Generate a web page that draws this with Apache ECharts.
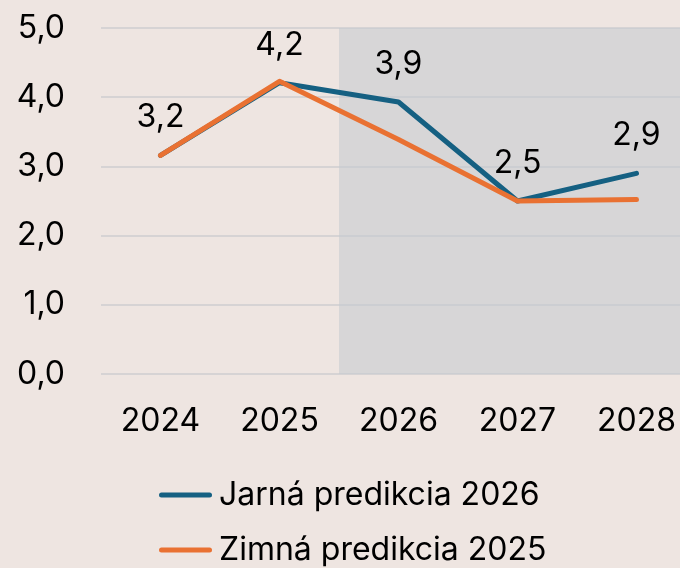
<!DOCTYPE html>
<html>
<head>
<meta charset="utf-8">
<script src="https://cdn.jsdelivr.net/npm/echarts@6/dist/echarts.min.js"></script>
<style>
  html, body { margin: 0; padding: 0; background: #eee5e1; }
  #chart { width: 680px; height: 568px; }
</style>
</head>
<body>
<div id="chart"></div>
<script>
var years = ["2024", "2025", "2026", "2027", "2028"];
var jarna = [3.16, 4.21, 3.93, 2.5, 2.9];
var zimna = [3.16, 4.23, 3.39, 2.5, 2.52];
var yTicks = [0, 1, 2, 3, 4, 5];
// forecast band starts at 2026 (index 2), shaded to the end
var forecastFrom = 2;

var fmt = function (v) {
  return Number(v).toFixed(1).replace(".", ",");
};
var font = "Inter, 'Noto Sans', sans-serif";
var pill = "path://M2.5,0 H50.5 A2.5,2.5 0 0 1 50.5,5 H2.5 A2.5,2.5 0 0 1 2.5,0 Z";

var myChart = echarts.init(document.getElementById("chart"));
var option = {
  animation: false,
  backgroundColor: "#eee5e1",
  textStyle: { fontFamily: font, color: "#000" },
  grid: { left: 101, right: -16, top: 28, bottom: 194, outerBoundsMode: "none" },
  legend: {
    orient: "vertical",
    left: 159,
    top: 476,
    height: 100,
    padding: 0,
    itemWidth: 53,
    itemHeight: 5,
    itemGap: 17,
    icon: pill,
    textStyle: { fontSize: 32, lineHeight: 38, fontFamily: font, color: "#000", padding: [0, 0, 0, 2] },
    data: ["Jarná predikcia 2026", "Zimná predikcia 2025"],
  },
  xAxis: [
    {
      type: "category",
      data: years,
      boundaryGap: true,
      axisLine: { show: false },
      axisTick: { show: false },
      axisLabel: { fontSize: 32, color: "#000", margin: 31, fontFamily: font },
    },
    {
      // helper axis aligned with category bands, only used for the shaded band
      type: "value",
      show: false,
      min: -0.5,
      max: years.length - 0.5,
    },
  ],
  yAxis: {
    type: "value",
    min: yTicks[0],
    max: yTicks[yTicks.length - 1],
    interval: 1,
    axisLine: { show: false },
    axisTick: { show: false },
    splitLine: { lineStyle: { color: "#d6d3d4", width: 2 } },
    axisLabel: {
      fontSize: 32,
      color: "#000",
      margin: 36,
      fontFamily: font,
      formatter: fmt,
    },
  },
  series: [
    {
      name: "band",
      type: "line",
      xAxisIndex: 1,
      data: [],
      silent: true,
      z: 1,
      markArea: {
        silent: true,
        itemStyle: { color: "rgba(196,203,208,0.55)" },
        data: [[{ xAxis: forecastFrom - 0.5 }, { xAxis: years.length - 0.5 }]],
      },
    },
    {
      name: "Jarná predikcia 2026",
      type: "line",
      data: jarna,
      symbol: "circle",
      symbolSize: 1,
      z: 3,
      color: "#156082",
      lineStyle: { width: 5, color: "#156082", cap: "round", join: "round" },
      label: {
        show: true,
        position: "top",
        distance: 21,
        fontSize: 32,
        color: "#000",
        fontFamily: font,
        formatter: function (p) { return fmt(p.value); },
      },
    },
    {
      name: "Zimná predikcia 2025",
      type: "line",
      data: zimna,
      symbol: "none",
      z: 4,
      color: "#e97132",
      lineStyle: { width: 5, color: "#e97132", cap: "round", join: "round" },
    },
  ],
};
myChart.setOption(option);
</script>
</body>
</html>
